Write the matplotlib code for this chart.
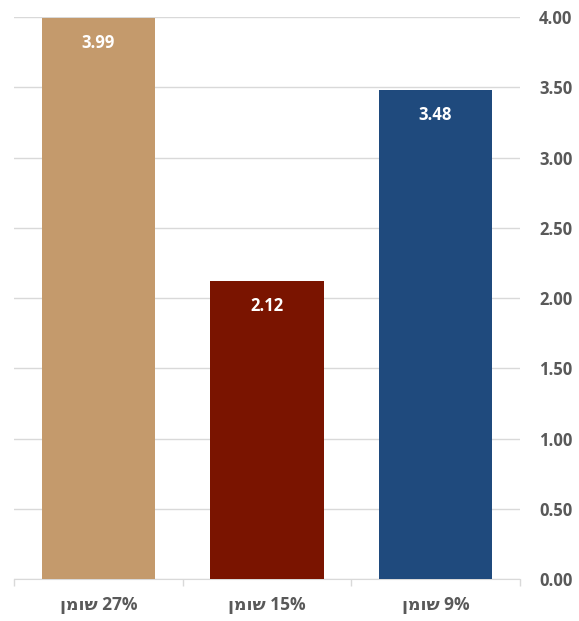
import matplotlib
matplotlib.use("Agg")
import matplotlib.pyplot as plt

categories = ["ןמוש 27%", "ןמוש 15%", "ןמוש 9%"]
values = [3.99, 2.12, 3.48]
colors = ["#C49A6C", "#7A1400", "#1F4A7D"]
yticks = [0.0, 0.5, 1.0, 1.5, 2.0, 2.5, 3.0, 3.5, 4.0]

plt.rcParams['font.family'] = ['Open Sans', 'DejaVu Sans']

fig = plt.figure(figsize=(5.79, 6.21), dpi=100)
ax = fig.add_axes([0.0245, 0.0676, 0.873, 0.905])

x = list(range(len(categories)))
bars = ax.bar(x, values, width=0.675, color=colors, zorder=3)

for xi, v in zip(x, values):
    ax.annotate(f"{v:.2f}", xy=(xi, v), xytext=(0, -25), textcoords="offset pixels",
                ha="center", va="center", color="white", fontsize=12, fontweight="bold", zorder=4)

ax.set_xlim(-0.5, 2.5)
ax.set_ylim(0, 4)
ax.set_yticks(yticks)
ax.set_yticklabels([f"{t:.2f}" for t in yticks])
ax.yaxis.tick_right()
ax.tick_params(axis="y", length=0, pad=14, labelsize=12, labelcolor="#595959")
for lab in ax.get_yticklabels():
    lab.set_fontweight("bold")

ax.set_xticks(x)
ax.set_xticklabels(categories)
ax.set_xticks([-0.5, 0.5, 1.5, 2.5], minor=True)
ax.tick_params(axis="x", which="major", length=0, pad=12, labelsize=12.5, labelcolor="#595959")
ax.tick_params(axis="x", which="minor", length=5, color="#D9D9D9", width=1)
for lab in ax.get_xticklabels():
    lab.set_fontweight("bold")

ax.grid(axis="y", color="#D9D9D9", linewidth=1, zorder=0)
for s in ["left", "right", "top"]:
    ax.spines[s].set_visible(False)
ax.spines["bottom"].set_color("#D9D9D9")

fig.savefig("out.png", dpi=100)
